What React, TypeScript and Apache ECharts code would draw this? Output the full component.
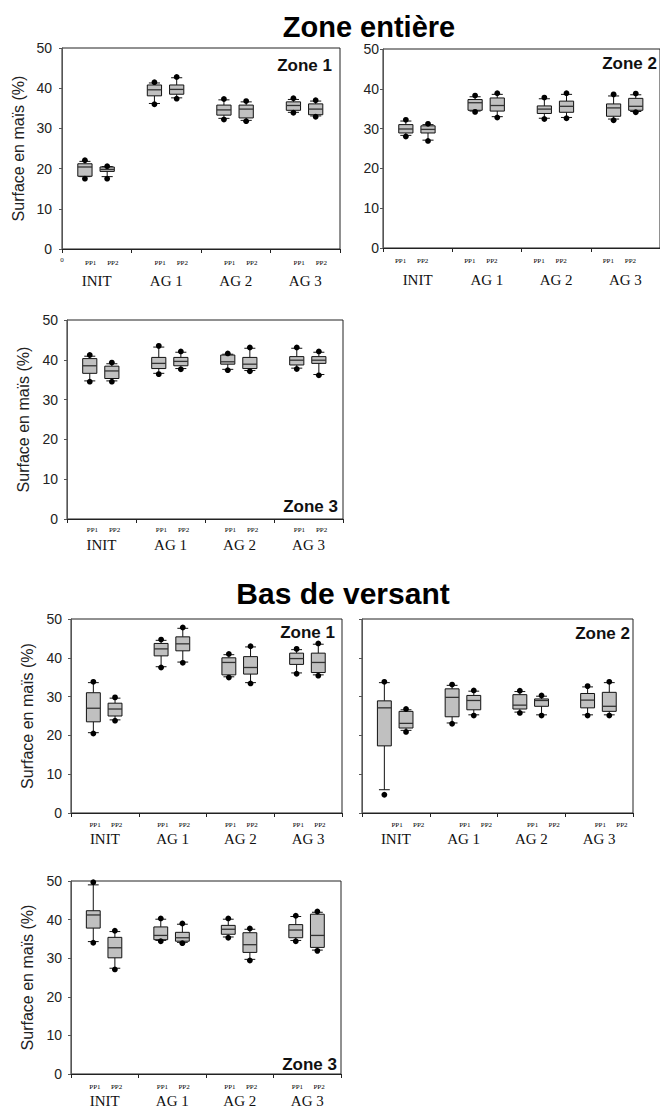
import React, { useEffect, useRef } from "react";
import * as echarts from "echarts";

const categories = ["INIT", "AG 1", "AG 2", "AG 3"];
const yAxisName = "Surface en maïs (%)";
const titleTop = "Zone entière";
const titleBottom = "Bas de versant";
const ppNames = ["PP1", "PP2"];
const zoneNames = ["Zone 1", "Zone 2", "Zone 3", "Zone 1", "Zone 2", "Zone 3"];

// each row: [whiskerLow, q1, median, q3, whiskerHigh, dotLow, dotHigh], one row per category
const zeZ1pp1 = [[18.0, 18.1, 20.4, 21.2, 21.8, 17.5, 22.1], [36.2, 38.1, 39.6, 40.8, 41.3, 36.0, 41.5], [32.5, 33.3, 34.6, 35.8, 37.1, 32.2, 37.3], [34.0, 34.5, 35.7, 36.6, 37.2, 33.9, 37.5]];
const zeZ1pp2 = [[18.0, 19.3, 19.8, 20.4, 20.5, 17.5, 20.6], [37.6, 38.5, 39.7, 40.8, 42.6, 37.4, 42.8], [32.0, 32.6, 34.8, 35.8, 36.6, 31.8, 36.8], [33.1, 33.4, 34.8, 36.1, 36.8, 32.9, 37.0]];
const zeZ2pp1 = [[28.3, 28.9, 29.9, 31.0, 31.9, 28.0, 32.2], [34.4, 34.6, 36.5, 37.3, 38.0, 34.2, 38.3], [32.6, 33.8, 34.9, 35.7, 37.5, 32.4, 37.8], [32.4, 33.1, 35.2, 36.2, 38.2, 32.1, 38.6]];
const zeZ2pp2 = [[27.1, 28.9, 29.8, 30.7, 31.0, 26.9, 31.2], [33.0, 34.4, 35.8, 37.7, 38.6, 32.8, 38.9], [32.8, 34.1, 35.6, 36.9, 38.6, 32.6, 38.9], [34.3, 34.6, 35.6, 37.6, 38.5, 34.1, 38.8]];
const zeZ3pp1 = [[34.7, 36.6, 38.5, 40.3, 40.9, 34.5, 41.2], [36.6, 37.8, 39.1, 40.6, 43.2, 36.4, 43.5], [37.6, 38.9, 39.5, 41.2, 41.4, 37.4, 41.6], [37.9, 38.7, 39.9, 40.8, 42.9, 37.7, 43.1]];
const zeZ3pp2 = [[34.7, 35.3, 37.2, 38.4, 39.0, 34.5, 39.3], [37.8, 38.5, 39.6, 40.6, 41.9, 37.6, 42.1], [37.3, 37.8, 38.9, 40.6, 42.9, 37.1, 43.1], [36.3, 39.1, 39.9, 40.8, 41.9, 36.1, 42.1]];
const bvZ1pp1 = [[20.7, 23.5, 27.0, 31.0, 33.6, 20.5, 33.8], [37.7, 40.5, 42.3, 43.7, 44.5, 37.5, 44.7], [35.1, 35.6, 38.8, 40.0, 40.8, 34.9, 41.0], [36.1, 38.3, 39.8, 41.2, 42.1, 35.9, 42.3]];
const bvZ1pp2 = [[24.0, 25.0, 26.8, 28.3, 29.6, 23.8, 29.8], [38.9, 41.8, 43.6, 45.4, 47.6, 38.7, 47.8], [33.6, 35.8, 37.5, 40.3, 42.8, 33.4, 43.0], [35.6, 36.2, 38.8, 41.2, 43.5, 35.4, 43.7]];
const bvZ2pp1 = [[6.0, 17.3, 27.1, 28.9, 33.6, 4.7, 33.8], [23.2, 24.8, 29.8, 32.0, 32.9, 23.0, 33.1], [26.0, 26.8, 27.8, 30.5, 31.3, 25.8, 31.5], [25.3, 27.1, 29.1, 30.8, 32.5, 25.1, 32.7]];
const bvZ2pp2 = [[21.3, 21.9, 23.1, 26.2, 26.6, 20.9, 26.8], [25.3, 26.6, 29.0, 30.3, 31.4, 25.1, 31.6], [25.3, 27.5, 29.0, 29.4, 30.1, 25.1, 30.3], [25.3, 26.2, 27.5, 31.1, 33.6, 25.1, 33.8]];
const bvZ3pp1 = [[34.3, 37.8, 41.2, 42.3, 49.0, 34.0, 49.7], [34.6, 34.8, 35.9, 38.1, 40.1, 34.4, 40.3], [35.5, 36.2, 37.5, 38.5, 40.1, 35.3, 40.3], [34.6, 35.3, 37.3, 38.7, 40.8, 34.4, 41.0]];
const bvZ3pp2 = [[27.4, 30.1, 32.7, 35.4, 36.9, 27.1, 37.1], [34.1, 34.4, 35.3, 36.7, 38.8, 33.9, 39.0], [29.7, 31.5, 33.5, 36.6, 37.5, 29.4, 37.7], [32.1, 32.8, 35.9, 41.4, 41.9, 31.9, 42.1]];

const panelData = [
  [zeZ1pp1, zeZ1pp2],
  [zeZ2pp1, zeZ2pp2],
  [zeZ3pp1, zeZ3pp2],
  [bvZ1pp1, bvZ1pp2],
  [bvZ2pp1, bvZ2pp2],
  [bvZ3pp1, bvZ3pp2],
];

// layout per panel
const panels = [
  { left: 62, top: 48, width: 278, height: 201, yLabels: true, yName: true, yMargin: 10, catMargin: 24, ppDy: 14, ppShift: 5, zone: { x: 332, y: 65 } },
  { left: 383, top: 49, width: 277, height: 199, yLabels: true, yName: false, yMargin: 4, catMargin: 24, ppDy: 13, ppShift: -6, zone: { x: 657, y: 63 } },
  { left: 67, top: 320, width: 276, height: 199, yLabels: true, yName: true, yMargin: 9, catMargin: 18, ppDy: 11, ppShift: 2, zone: { x: 338, y: 506 } },
  { left: 71, top: 619, width: 271, height: 194, yLabels: true, yName: true, yMargin: 9, catMargin: 18, ppDy: 12, ppShift: 1, zone: { x: 335, y: 632 } },
  { left: 362, top: 619, width: 271, height: 194, yLabels: false, yName: false, yMargin: 9, catMargin: 18, ppDy: 12, ppShift: 12, zone: { x: 630, y: 633 } },
  { left: 71, top: 881, width: 270, height: 193, yLabels: true, yName: true, yMargin: 9, catMargin: 19, ppDy: 13, ppShift: 1, zone: { x: 337, y: 1064 } },
];

const SANS = "'Liberation Sans', Arial, sans-serif";
const SERIF = "'Liberation Serif', 'Times New Roman', serif";

function makeRender(side: number, ppName: string, ppShift: number, ppDy: number) {
  return (params: any, api: any) => {
    const cat = api.value(0);
    const bw = api.size([1, 0])[0];
    const cx = api.coord([cat, 0])[0] + side * bw * 0.16 - bw * 0.01;
    const Y = (i: number) => api.coord([cat, api.value(i)])[1];
    const wl = Y(1), q1 = Y(2), md = Y(3), q3 = Y(4), wh = Y(5), dl = Y(6), dh = Y(7);
    const base = api.coord([cat, 0])[1];
    const boxW = bw * 0.205;
    const capW = bw * 0.16;
    const lineStyle = { stroke: "#111", lineWidth: 1 };
    const lx = api.coord([cat, 0])[0] + side * bw * 0.16 + ppShift;
    return {
      type: "group",
      children: [
        { type: "line", shape: { x1: cx, y1: wl, x2: cx, y2: q1 }, style: lineStyle },
        { type: "line", shape: { x1: cx, y1: q3, x2: cx, y2: wh }, style: lineStyle },
        { type: "line", shape: { x1: cx - capW / 2, y1: wl, x2: cx + capW / 2, y2: wl }, style: lineStyle },
        { type: "line", shape: { x1: cx - capW / 2, y1: wh, x2: cx + capW / 2, y2: wh }, style: lineStyle },
        { type: "rect", shape: { x: cx - boxW / 2, y: q3, width: boxW, height: q1 - q3 }, style: { fill: "#c0c0c0", stroke: "#111", lineWidth: 1 } },
        { type: "line", shape: { x1: cx - boxW / 2, y1: md, x2: cx + boxW / 2, y2: md }, style: { stroke: "#333", lineWidth: 1.3 } },
        { type: "circle", shape: { cx: cx, cy: dl, r: 2.9 }, style: { fill: "#000" } },
        { type: "circle", shape: { cx: cx, cy: dh, r: 2.9 }, style: { fill: "#000" } },
        {
          type: "text",
          x: lx,
          y: base + ppDy,
          style: { text: ppName, fill: "#000", font: `7px ${SERIF}`, align: "center", verticalAlign: "middle" },
        },
      ],
    };
  };
}

export default function App() {
  const ref = useRef<HTMLDivElement>(null);
  useEffect(() => {
    if (!ref.current) return;
    const chart = echarts.init(ref.current, undefined, { renderer: "svg" });
    const grid: any[] = [];
    const xAxis: any[] = [];
    const yAxis: any[] = [];
    const series: any[] = [];
    const graphic: any[] = [];
    panels.forEach((p, i) => {
      grid.push({ left: p.left, top: p.top, width: p.width, height: p.height, show: true, borderColor: "#222", borderWidth: 1, backgroundColor: "transparent", containLabel: false });
      xAxis.push({
        gridIndex: i,
        type: "category",
        data: categories,
        boundaryGap: true,
        axisLine: { show: true, lineStyle: { color: "#222", width: 1 } },
        axisTick: { show: true, length: 4, interval: 0, alignWithLabel: false, lineStyle: { color: "#222" } },
        axisLabel: { show: true, interval: 0, margin: p.catMargin, fontFamily: SERIF, fontSize: 15, color: "#111" },
        splitLine: { show: false },
      });
      yAxis.push({
        gridIndex: i,
        type: "value",
        min: 0,
        max: 50,
        interval: 10,
        axisLine: { show: true, lineStyle: { color: "#555", width: 1 } },
        axisTick: { show: true, length: 3, lineStyle: { color: "#555" } },
        splitLine: { show: false },
        axisLabel: { show: p.yLabels, margin: p.yMargin, fontFamily: SANS, fontSize: 14, color: "#222" },
        name: p.yName ? yAxisName : "",
        nameLocation: "middle",
        nameGap: 36,
        nameTextStyle: { fontFamily: SANS, fontSize: 16, color: "#222" },
      });
      panelData[i].forEach((rows, s) => {
        series.push({
          type: "custom",
          name: ppNames[s],
          xAxisIndex: i,
          yAxisIndex: i,
          clip: false,
          encode: { x: 0, y: [1, 2, 3, 4, 5, 6, 7] },
          data: rows.map((r, c) => [c, ...r]),
          renderItem: makeRender(s === 0 ? -1 : 1, ppNames[s], p.ppShift, p.ppDy),
        });
      });
      graphic.push({
        type: "text",
        x: p.zone.x,
        y: p.zone.y,
        style: { text: zoneNames[i], fill: "#111", font: `bold 17px ${SANS}`, align: "right", verticalAlign: "middle" },
      });
    });
    graphic.push({ type: "text", x: 369, y: 27, style: { text: titleTop, fill: "#000", font: `bold 29px ${SANS}`, align: "center", verticalAlign: "middle" } });
    graphic.push({ type: "text", x: 343, y: 593, style: { text: titleBottom, fill: "#000", font: `bold 30px ${SANS}`, align: "center", verticalAlign: "middle" } });
    graphic.push({ type: "text", x: 62, y: 260, style: { text: "0", fill: "#222", font: `7px ${SERIF}`, align: "center", verticalAlign: "middle" } });

    chart.setOption({ animation: false, backgroundColor: "#fff", grid, xAxis, yAxis, series, graphic });
    return () => chart.dispose();
  }, []);
  return <div ref={ref} style={{ position: "absolute", left: 0, top: 0, width: 660, height: 1112 }} />;
}
